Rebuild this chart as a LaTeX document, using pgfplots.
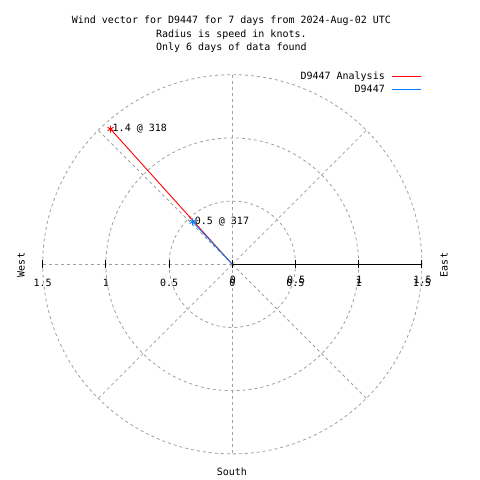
\documentclass[border=0pt]{standalone}
\usepackage{pgfplots}
\pgfplotsset{compat=1.18}
\usepackage{fontspec}
\setmainfont{DejaVu Sans Mono}
\definecolor{gridgray}{RGB}{160,160,160}
\definecolor{seriesblue}{RGB}{0,128,255}
\tikzset{gridl/.style={gridgray, line width=0.8pt, dash pattern=on 3pt off 3pt}}
\begin{document}
\fontsize{10}{12}\selectfont
\begin{tikzpicture}
\useasboundingbox (0,0) rectangle (480pt,480pt);
\fill[white] (0,0) rectangle (480pt,480pt);
\begin{axis}[
  at={(0,0)}, anchor=south west,
  scale only axis, width=480pt, height=480pt,
  xmin=-1.838, xmax=1.960, ymin=-1.7065, ymax=2.091,
  hide axis, clip=false,
]
% grid
\draw[gridl] (axis cs:0,0) circle [radius=0.5];
\draw[gridl] (axis cs:0,0) circle [radius=1.0];
\draw[gridl] (axis cs:0,0) circle [radius=1.5];
\draw[gridl] (axis cs:0,0) -- (axis cs:0,1.5);
\draw[gridl] (axis cs:0,0) -- (axis cs:1.0607,1.0607);
\draw[gridl] (axis cs:0,0) -- (axis cs:1.0607,-1.0607);
\draw[gridl] (axis cs:0,0) -- (axis cs:0,-1.5);
\draw[gridl] (axis cs:0,0) -- (axis cs:-1.0607,-1.0607);
\draw[gridl] (axis cs:0,0) -- (axis cs:-1.5,0);
\draw[gridl] (axis cs:0,0) -- (axis cs:-1.0607,1.0607);
% radial axis
\draw[black, line width=0.9pt] (axis cs:0,0) -- (axis cs:1.5,0);
\pgfplotsinvokeforeach{-1.5,-1,-0.5,0,0.5,1,1.5}{
  \draw[black, line width=0.9pt] (axis cs:#1,-0.032) -- (axis cs:#1,0.032);
}
% data
\addplot[draw=red, line width=0.9pt, mark=asterisk, mark size=3.5pt, mark indices={2}, mark options={solid, draw=red, line width=0.9pt}]
  coordinates {(0,0) (-0.9636,1.0701)};
\addplot[draw=seriesblue, line width=0.9pt, mark=asterisk, mark size=3.5pt, mark indices={2}, mark options={solid, draw=seriesblue, line width=0.9pt}]
  coordinates {(0,0) (-0.3137,0.3364)};
\node[anchor=west, inner sep=0pt, xshift=2pt] at (axis cs:-0.9636,1.0701) {1.4 @ 318};
\node[anchor=west, inner sep=0pt, xshift=2pt] at (axis cs:-0.3137,0.3364) {0.5 @ 317};
% legend
\node[anchor=base east, inner sep=0pt] at (rel axis cs:0.8021,0.8344) {D9447 Analysis};
\draw[red, line width=0.9pt] (rel axis cs:0.8167,0.8417) -- (rel axis cs:0.8771,0.8417);
\node[anchor=base east, inner sep=0pt] at (rel axis cs:0.8021,0.8073) {D9447};
\draw[seriesblue, line width=0.9pt] (rel axis cs:0.8167,0.8146) -- (rel axis cs:0.8771,0.8146);
% tick labels
\node[anchor=base, inner sep=0pt] at ([yshift=-22.7pt]axis cs:-1.5,0) {1.5};
\node[anchor=base, inner sep=0pt] at ([yshift=-22.7pt]axis cs:-1,0) {1};
\node[anchor=base, inner sep=0pt] at ([yshift=-22.7pt]axis cs:-0.5,0) {0.5};
\node[anchor=base, inner sep=0pt] at ([yshift=-22.7pt]axis cs:0,0) {0};
\node[anchor=base, inner sep=0pt] at ([yshift=-22.7pt]axis cs:0.5,0) {0.5};
\node[anchor=base, inner sep=0pt] at ([yshift=-22.7pt]axis cs:1,0) {1};
\node[anchor=base, inner sep=0pt] at ([yshift=-22.7pt]axis cs:1.5,0) {1.5};
\node[anchor=base, inner sep=0pt] at ([xshift=0.7pt,yshift=-19.5pt]axis cs:0,0) {0};
\node[anchor=base, inner sep=0pt] at ([xshift=0.7pt,yshift=-19.5pt]axis cs:0.5,0) {0.5};
\node[anchor=base, inner sep=0pt] at ([xshift=0.7pt,yshift=-19.5pt]axis cs:1,0) {1};
\node[anchor=base, inner sep=0pt] at ([xshift=0.7pt,yshift=-19.5pt]axis cs:1.5,0) {1.5};
% compass labels
\node[rotate=90, inner sep=0pt] at (rel axis cs:0.0437,0.4479) {West};
\node[rotate=90, inner sep=0pt] at (rel axis cs:0.925,0.4479) {East};
\node[anchor=base, inner sep=0pt] at (rel axis cs:0.483,0.0104) {South};
% title
\node[anchor=base, inner sep=0pt] at (rel axis cs:0.482,0.95) {Wind vector for D9447 for 7 days from 2024-Aug-02 UTC};
\node[anchor=base, inner sep=0pt] at (rel axis cs:0.482,0.9229) {Radius is speed in knots.};
\node[anchor=base, inner sep=0pt] at (rel axis cs:0.482,0.8958) {Only 6 days of data found};
\end{axis}
\end{tikzpicture}
\end{document}
